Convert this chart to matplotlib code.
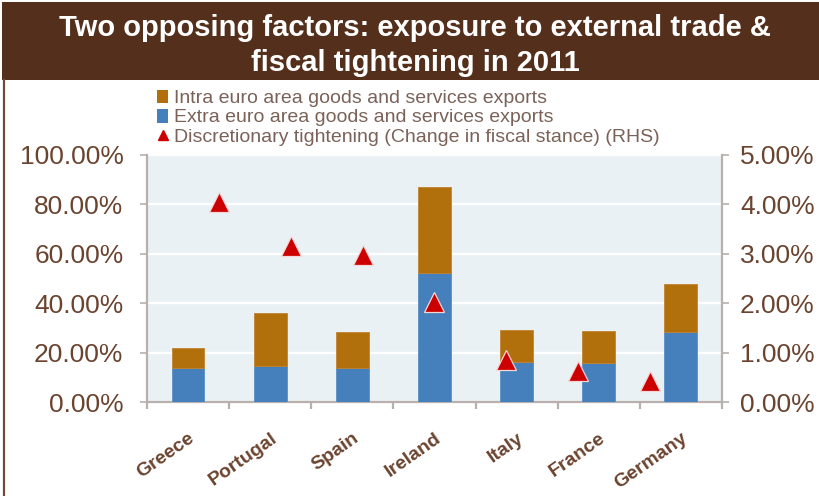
import numpy as np
import matplotlib
matplotlib.use("Agg")
import matplotlib.pyplot as plt
from matplotlib.patches import Patch, Rectangle
from matplotlib.lines import Line2D
from matplotlib.ticker import FuncFormatter, FixedLocator

# Data (share of GDP; fiscal tightening in percent of GDP)
countries = ["Greece", "Portugal", "Spain", "Ireland", "Italy", "France", "Germany"]
extra_euro = [13.6, 14.7, 13.6, 52.1, 16.3, 15.7, 28.2]
intra_euro = [8.4, 21.5, 14.6, 35.1, 12.8, 12.9, 19.4]
tightening = [4.04, 3.15, 2.97, 2.02, 0.86, 0.62, 0.42]

left_ticks = [0, 20, 40, 60, 80, 100]
right_ticks = [0, 1, 2, 3, 4, 5]

BROWN = "#542F1B"
TEXT = "#6B4430"
BLUE = "#4680BC"
ORANGE = "#B2700C"
RED = "#CC0000"
PLOT_BG = "#EAF1F5"
AXIS = "#B8B0AC"
FONT = ["Liberation Sans", "DejaVu Sans"]

W, H = 820, 496
fig = plt.figure(figsize=(W / 100, H / 100), dpi=100)
fig.patch.set_facecolor("white")

# Header band and left frame line
fig.add_artist(Rectangle((2 / W, 1 - 80 / H), 1, 78 / H, transform=fig.transFigure,
                         facecolor=BROWN, edgecolor="none", zorder=0))
fig.add_artist(Line2D([3.5 / W, 3.5 / W], [0, 1 - 80 / H], transform=fig.transFigure,
                      color="#6E4B3A", lw=1.6))
fig.text(0.5 + 5 / W, 1 - 36 / H, "Two opposing factors: exposure to external trade &",
         ha="center", va="baseline", color="white", fontsize=21, fontweight="bold",
         family=FONT)
fig.text(0.5 + 5 / W, 1 - 71 / H, "fiscal tightening in 2011",
         ha="center", va="baseline", color="white", fontsize=21, fontweight="bold",
         family=FONT)

ax = fig.add_axes([147 / W, (H - 402) / H, 575 / W, 247 / H])
ax.set_facecolor(PLOT_BG)
x = np.arange(len(countries))
ax.bar(x, extra_euro, width=0.4, color=BLUE, edgecolor="#5B8FC6", lw=0.6, zorder=3)
ax.bar(x, intra_euro, width=0.4, bottom=extra_euro, color=ORANGE,
       edgecolor="#C08330", lw=0.6, zorder=3)
ax.set_xlim(-0.5, len(countries) - 0.5)
ax.set_ylim(0, 100)
ax.yaxis.set_major_locator(FixedLocator(left_ticks))
ax.yaxis.set_major_formatter(FuncFormatter(lambda v, p: f"{v:.2f}%"))
ax.grid(axis="y", color="white", lw=1.6, zorder=1)
ax.set_axisbelow(True)

for s in ["top", "right"]:
    ax.spines[s].set_visible(False)
for s in ["left", "bottom"]:
    ax.spines[s].set_color(AXIS)
    ax.spines[s].set_linewidth(1.6)

ax.set_xticks(x)
ax.set_xticklabels(countries, rotation=35, ha="right", va="top",
                   rotation_mode="anchor", fontsize=14, fontweight="bold",
                   color=TEXT, family=FONT)
ax.tick_params(axis="x", which="major", length=0, pad=20)
ax.set_xticks(np.arange(len(countries) + 1) - 0.5, minor=True)
ax.tick_params(axis="x", which="minor", length=5, width=1.6, color=AXIS)
ax.tick_params(axis="y", length=5, width=1.2, color=AXIS, labelsize=19,
               labelcolor=TEXT, pad=12)
for lab in ax.get_yticklabels():
    lab.set_family(FONT)

# Right-hand scale: discretionary fiscal tightening
ax2 = ax.twinx()
ax2.set_ylim(0, 5)
ax2.yaxis.set_major_locator(FixedLocator(right_ticks))
ax2.yaxis.set_major_formatter(FuncFormatter(lambda v, p: f"{v:.2f}%"))
for s in ["top", "left", "bottom"]:
    ax2.spines[s].set_visible(False)
ax2.spines["right"].set_color(AXIS)
ax2.spines["right"].set_linewidth(1.6)
ax2.tick_params(axis="y", length=5, width=1.2, color=AXIS, labelsize=19,
                labelcolor=TEXT, pad=8)
for lab in ax2.get_yticklabels():
    lab.set_family(FONT)

# Markers sit on an (n+1)-slot category scale spanning the same width
n = len(countries)
tri_x = -0.5 + n * (np.arange(n) + 1) / (n + 1)
ax2.plot(tri_x, tightening, ls="none", marker="^", ms=14, color=RED,
         markeredgecolor="#F4D6D6", markeredgewidth=0.9, zorder=5)

handles = [
    Patch(facecolor=ORANGE, edgecolor="none"),
    Patch(facecolor=BLUE, edgecolor="none"),
    Line2D([], [], ls="none", marker="^", ms=7, color=RED),
]
labels = [
    "Intra euro area goods and services exports",
    "Extra euro area goods and services exports",
    "Discretionary tightening (Change in fiscal stance) (RHS)",
]
leg = fig.legend(handles, labels, loc="upper left",
                 bbox_to_anchor=(147 / W, 1 - 80 / H), frameon=False,
                 handlelength=0.6, handleheight=0.7,
                 handletextpad=0.3, labelspacing=0.08, borderpad=0,
                 prop={"family": FONT, "size": 14})
for t in leg.get_texts():
    t.set_color("#7A6258")

fig.savefig("out.png", dpi=100, facecolor="white")
